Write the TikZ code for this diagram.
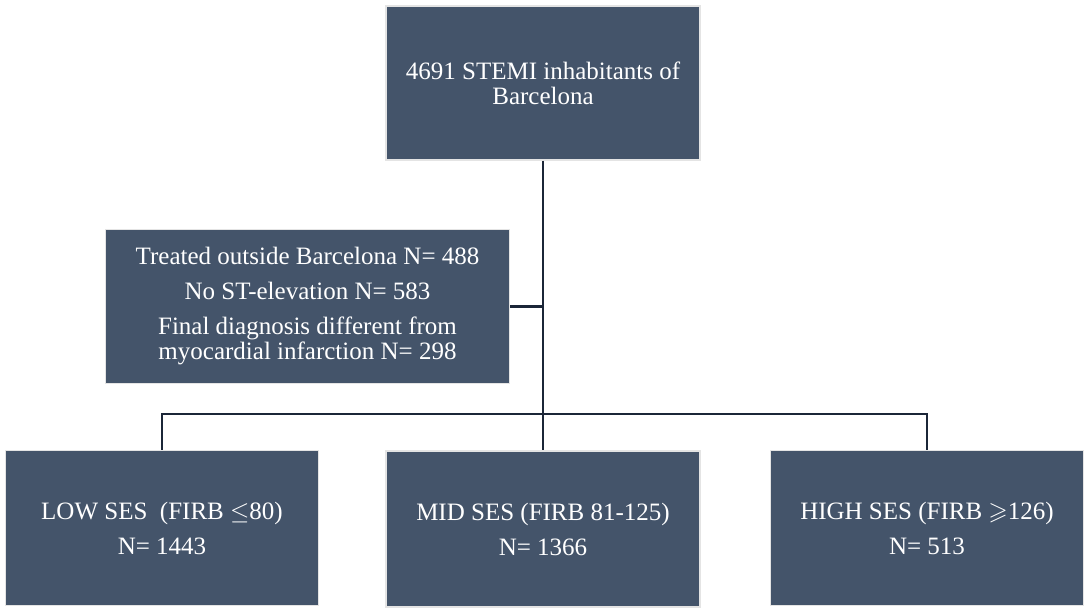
\documentclass[tikz,border=0pt]{standalone}
\usepackage{amssymb}
\usepackage{fontspec}
\setmainfont{Liberation Serif}
\definecolor{boxfill}{HTML}{44546A}
\definecolor{boxline}{HTML}{E4E4E4}
\definecolor{conn}{HTML}{1B2638}
\begin{document}
\begin{tikzpicture}[x=1pt,y=-1pt,
  box/.style={draw=boxline, line width=1.5pt, fill=boxfill, text=white, align=center,
    font=\fontsize{25}{25}\selectfont, inner sep=0pt},
  wire/.style={draw=conn, line width=2pt}]
\useasboundingbox (0,0) rectangle (1084,612);
\node[box, minimum width=314, minimum height=154] (top) at (543,83)
  {4691 STEMI inhabitants of\\Barcelona};
\node[box, minimum width=404, minimum height=154] (excl) at (307.5,306.5)
  {Treated outside Barcelona N= 488\\[10pt]No ST-elevation N= 583\\[10pt]Final diagnosis different from\\myocardial infarction N= 298};
\node[box, minimum width=313, minimum height=155] (low) at (162,528)
  {LOW SES\ \ (FIRB $\leq$80)\\[10pt]N= 1443};
\node[box, minimum width=314, minimum height=156] (mid) at (543,529)
  {MID SES (FIRB 81-125)\\[10pt]N= 1366};
\node[box, minimum width=313, minimum height=155] (high) at (927,528)
  {HIGH SES (FIRB $\geqslant$126)\\[10pt]N= 513};
\coordinate (split) at (top.south |- 0,414);
\coordinate (side) at (top.south |- excl.east);
\draw[wire] (top.south) -- (split) -- (mid.north);
\draw[wire] (excl.east) -- (side);
\draw[wire] (low.north) |- (split) -| (high.north);
\end{tikzpicture}
\end{document}
